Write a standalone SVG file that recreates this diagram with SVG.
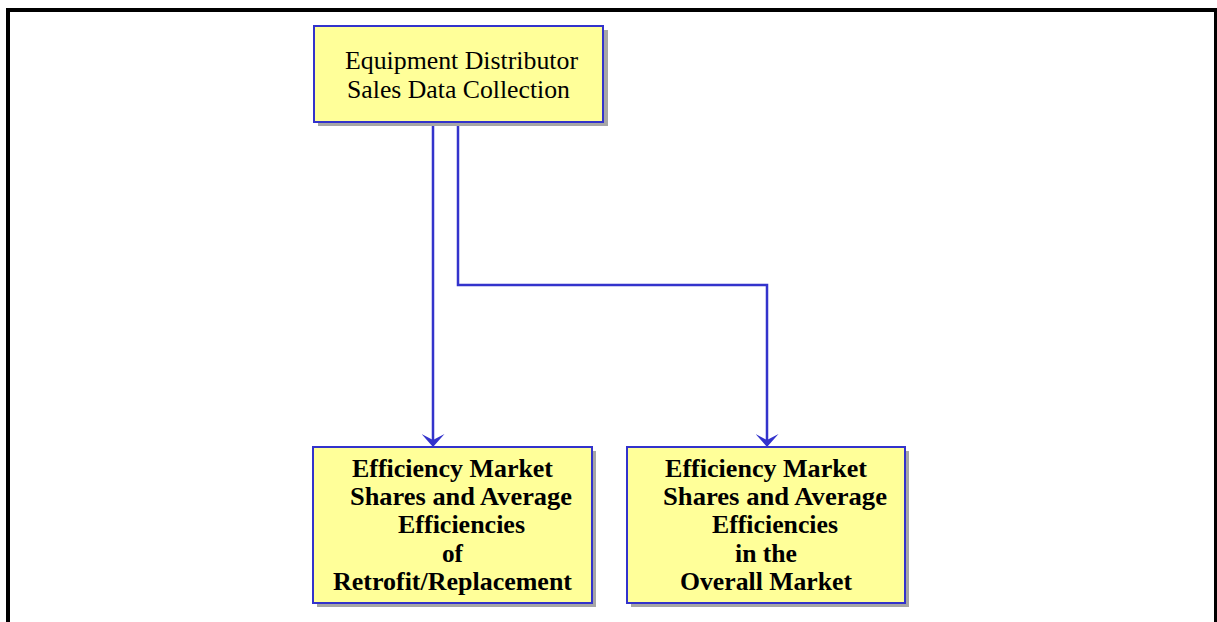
<svg xmlns="http://www.w3.org/2000/svg" width="1217" height="622" viewBox="0 0 1217 622">
<style>
.frame{fill:none;stroke:#000;stroke-width:4}
.shadow{fill:#a6a6a6}
.box{fill:#ffff99;stroke:#3333cc;stroke-width:2}
.conn{fill:none;stroke:#3333cc;stroke-width:2.5}
.t{font-family:"Liberation Serif","Times New Roman",serif;font-size:25.5px;fill:#000;text-anchor:start}
.b{font-family:"Liberation Serif","Times New Roman",serif;font-size:25.5px;font-weight:bold;fill:#000;text-anchor:start}
</style>
<defs>
<marker id="arr" markerUnits="userSpaceOnUse" markerWidth="13" markerHeight="23" refX="8" refY="11.5" orient="auto" viewBox="0 0 13 23">
<path d="M13,11.5 L0,0 L6,11.5 L0,23 Z" fill="#3333cc"/>
</marker>
</defs>
<rect width="1217" height="622" fill="#fff"/>
<path class="frame" d="M8,640 L8,10 L1216,10 L1216,640"/>
<g id="connectors">
<path class="conn" d="M433,123 L433,442" marker-end="url(#arr)"/>
<path class="conn" d="M458,123 L458,285 L767,285 L767,442" marker-end="url(#arr)"/>
</g>
<g id="node-top">
<rect class="shadow" x="318" y="30" width="290" height="96"/>
<rect class="box" x="314" y="26" width="289" height="96"/>
<text class="t" x="345" y="69" textLength="233" lengthAdjust="spacingAndGlyphs">Equipment Distributor</text>
<text class="t" x="347" y="98" textLength="223" lengthAdjust="spacingAndGlyphs">Sales Data Collection</text>
</g>
<g id="node-left">
<rect class="shadow" x="317" y="451" width="279" height="156"/>
<rect class="box" x="313" y="447" width="279" height="156"/>
<text class="b" x="352" y="477" textLength="201" lengthAdjust="spacingAndGlyphs">Efficiency Market</text>
<text class="b" x="350" y="505" textLength="222" lengthAdjust="spacingAndGlyphs">Shares and Average</text>
<text class="b" x="398" y="533" textLength="127" lengthAdjust="spacingAndGlyphs">Efficiencies</text>
<text class="b" x="442" y="561.5" textLength="21" lengthAdjust="spacingAndGlyphs">of</text>
<text class="b" x="333" y="590" textLength="239" lengthAdjust="spacingAndGlyphs">Retrofit/Replacement</text>
</g>
<g id="node-right">
<rect class="shadow" x="631" y="451" width="278" height="156"/>
<rect class="box" x="627" y="447" width="278" height="156"/>
<text class="b" x="665" y="477" textLength="202" lengthAdjust="spacingAndGlyphs">Efficiency Market</text>
<text class="b" x="663" y="505" textLength="224" lengthAdjust="spacingAndGlyphs">Shares and Average</text>
<text class="b" x="712" y="533" textLength="126" lengthAdjust="spacingAndGlyphs">Efficiencies</text>
<text class="b" x="735" y="561.5" textLength="62" lengthAdjust="spacingAndGlyphs">in the</text>
<text class="b" x="680" y="590" textLength="172" lengthAdjust="spacingAndGlyphs">Overall Market</text>
</g>
</svg>
